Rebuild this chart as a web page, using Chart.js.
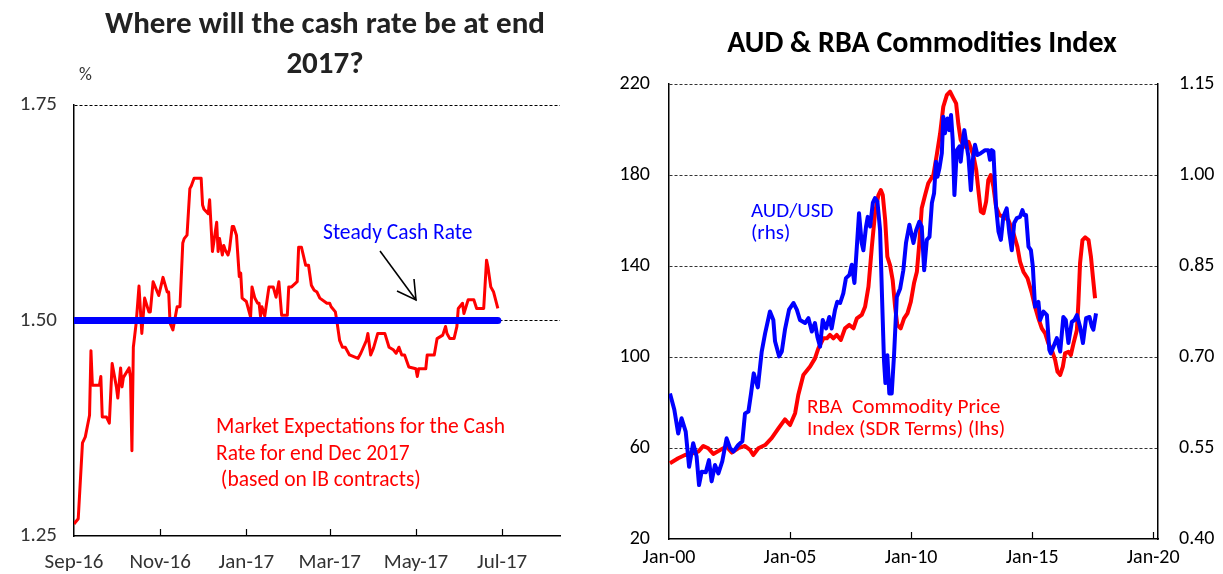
<!DOCTYPE html>
<html>
<head>
<meta charset="utf-8">
<script src="https://cdn.jsdelivr.net/npm/chart.js@4.4.1/dist/chart.umd.min.js"></script>
<style>
html,body{margin:0;padding:0;background:#fff;width:1223px;height:574px;overflow:hidden;font-family:Carlito,Lato,"Open Sans",sans-serif;}
#c1{position:absolute;left:0;top:0;}
#c2{position:absolute;left:600px;top:0;}
.t{position:absolute;white-space:pre;}
svg{position:absolute;left:0;top:0;pointer-events:none;}
</style>
</head>
<body>
<canvas id="c1" width="600" height="574"></canvas>
<canvas id="c2" width="623" height="574"></canvas>

<div class="t" style="left:0;top:2px;width:650px;text-align:center;font-weight:bold;font-size:31px;line-height:40px;color:#222;">Where will the cash rate be at end
2017?</div>
<div class="t" style="left:700px;top:22px;width:444px;text-align:center;font-weight:bold;font-size:30px;line-height:40px;color:#000;">AUD &amp; RBA Commodities Index</div>
<div class="t" style="left:79px;top:64px;font-size:18px;line-height:20px;color:#333;">%</div>

<div class="t" style="left:323px;top:219px;font-size:21.5px;line-height:26px;color:#0000ff;">Steady Cash Rate</div>
<div class="t" style="left:216px;top:413px;font-size:21.5px;line-height:26.5px;color:#ff0000;">Market Expectations for the Cash
Rate for end Dec 2017
 (based on IB contracts)</div>
<div class="t" style="left:751px;top:199px;font-size:21px;line-height:22px;color:#0000ff;">AUD/USD
(rhs)</div>
<div class="t" style="left:807px;top:395px;font-size:21.3px;line-height:22px;color:#ff0000;">RBA  Commodity Price
Index (SDR Terms) (lhs)</div>

<svg width="1223" height="574">
  <line x1="380" y1="251" x2="416" y2="300" stroke="#000" stroke-width="1.6"/>
  <polyline points="397,291 416,300 414,279" fill="none" stroke="#000" stroke-width="1.6"/>
</svg>

<script>
// ---------- Left chart data: cash rate expectations ----------
// x = days since 1 Sep 2016
const cashDays = [
  0,3,6,8,11,12,13,18,19,20,
  23,25,27,30,31,33,34,35,39,40,
  41,42,44,46,48,50,53,54,56,60,
  63,66,67,68,70,73,75,77,78,80,
  82,83,85,90,91,92,95,96,98,101,
  102,103,105,106,107,109,110,112,113,115,
  117,118,119,122,125,126,128,130,131,132,
  133,135,138,141,143,145,147,151,152,154,
  158,159,161,164,166,168,170,172,174,179,
  181,182,185,186,188,190,192,195,201,203,
  207,208,210,212,215,220,223,226,228,230,
  232,234,237,242,243,244,249,250,255,257,
  261,263,264,266,269,271,272,275,276,279,
  283,285,290,292,293,295,297,300
];
const cashRates = [
  1.264,1.270,1.358,1.365,1.390,1.465,1.425,1.425,1.435,1.388,
  1.388,1.381,1.450,1.423,1.410,1.445,1.423,1.434,1.445,1.434,
  1.349,1.469,1.497,1.540,1.485,1.526,1.510,1.510,1.545,1.529,
  1.550,1.533,1.533,1.497,1.489,1.516,1.516,1.590,1.595,1.599,
  1.653,1.656,1.665,1.665,1.634,1.629,1.624,1.640,1.580,1.614,
  1.580,1.595,1.576,1.587,1.582,1.576,1.582,1.609,1.609,1.599,
  1.551,1.555,1.526,1.522,1.504,1.539,1.526,1.520,1.520,1.505,
  1.516,1.505,1.539,1.539,1.527,1.545,1.506,1.506,1.539,1.539,
  1.545,1.585,1.585,1.564,1.564,1.541,1.535,1.533,1.526,1.520,
  1.520,1.516,1.510,1.500,1.477,1.469,1.469,1.460,1.456,1.462,
  1.477,1.485,1.460,1.468,1.485,1.485,1.469,1.466,1.462,1.469,
  1.460,1.460,1.446,1.444,1.435,1.444,1.444,1.460,1.460,1.479,
  1.483,1.493,1.485,1.479,1.479,1.493,1.514,1.520,1.508,1.524,
  1.524,1.514,1.514,1.570,1.562,1.539,1.533,1.514
];
const steadyDays = [0, 300];
const steadyRate = [1.50, 1.50];
const cashTickDays = [0, 61, 122, 181, 242, 303];
const cashTickLabels = ['Sep-16','Nov-16','Jan-17','Mar-17','May-17','Jul-17'];
const cashYTicks = [1.25, 1.50, 1.75];

// ---------- Right chart data ----------
const commodityYears = [
  2000.04,2000.38,2000.66,2000.94,2001.21,2001.42,2001.62,2001.83,2002.11,2002.38,
  2002.59,2002.86,2003.14,2003.35,2003.48,2003.69,2003.97,2004.24,2004.52,2004.79,
  2005.00,2005.21,2005.34,2005.55,2005.83,2006.03,2006.17,2006.38,2006.52,2006.65,
  2006.79,2006.93,2007.10,2007.27,2007.45,2007.62,2007.76,2007.96,2008.10,2008.24,
  2008.38,2008.51,2008.65,2008.75,2008.83,2008.93,2009.02,2009.13,2009.24,2009.34,
  2009.43,2009.57,2009.71,2009.85,2009.99,2010.12,2010.24,2010.34,2010.44,2010.58,
  2010.71,2010.92,2011.06,2011.20,2011.33,2011.48,2011.61,2011.75,2011.86,2011.95,
  2012.05,2012.19,2012.37,2012.57,2012.69,2012.78,2012.88,2012.99,2013.10,2013.19,
  2013.29,2013.40,2013.51,2013.65,2013.81,2014.02,2014.23,2014.39,2014.50,2014.64,
  2014.81,2014.99,2015.12,2015.26,2015.40,2015.54,2015.67,2015.81,2015.95,2016.05,
  2016.16,2016.27,2016.36,2016.50,2016.60,2016.71,2016.85,2016.91,2016.98,2017.08,
  2017.19,2017.33,2017.43,2017.51,2017.60
];
const commodityIndex = [
  53.3,55.5,56.9,57.6,58.4,60.9,59.9,57.4,59.1,60.6,
  58.0,59.9,60.9,59.1,56.9,59.9,61.3,64.3,68.6,72.6,
  70.1,75.3,83.3,92.1,95.8,99.4,103.8,108.2,108.2,109.7,
  108.2,109.7,107.5,112.6,114.1,112.6,117.0,118.5,122.1,130.9,
  148.5,163.2,171.2,173.4,171.2,160.2,144.1,140.4,133.8,122.1,
  114.1,112.6,117.0,119.2,124.3,132.4,137.5,150.0,165.4,171.2,
  176.4,180.0,188.8,198.3,210.0,215.2,216.6,213.7,211.5,202.7,
  195.4,192.4,194.6,188.8,182.2,173.4,163.9,163.2,168.3,177.8,
  180.0,174.9,166.1,162.4,161.7,160.2,154.4,148.5,141.9,137.5,
  134.6,128.0,122.1,117.0,112.6,110.4,106.0,103.1,98.7,93.5,
  92.1,95.8,101.6,102.3,100.9,106.0,111.9,123.6,141.2,151.4,
  152.6,151.4,144.1,135.3,125.8
];
const audYears = [
  2000.04,2000.22,2000.38,2000.52,2000.69,2000.83,2001.00,2001.14,2001.24,2001.35,
  2001.52,2001.65,2001.76,2001.90,2002.04,2002.20,2002.38,2002.52,2002.66,2002.86,
  2003.03,2003.14,2003.28,2003.39,2003.50,2003.67,2003.83,2003.97,2004.17,2004.31,
  2004.38,2004.55,2004.66,2004.79,2004.96,2005.14,2005.28,2005.41,2005.62,2005.76,
  2005.90,2006.03,2006.13,2006.24,2006.35,2006.49,2006.62,2006.72,2006.86,2006.95,
  2007.07,2007.20,2007.31,2007.45,2007.55,2007.66,2007.76,2007.85,2007.96,2008.03,
  2008.14,2008.21,2008.31,2008.42,2008.51,2008.61,2008.72,2008.80,2008.88,2008.94,
  2009.02,2009.10,2009.20,2009.30,2009.41,2009.55,2009.68,2009.79,2009.93,2010.10,
  2010.21,2010.34,2010.44,2010.54,2010.65,2010.76,2010.86,2010.95,2011.03,2011.09,
  2011.17,2011.27,2011.33,2011.40,2011.50,2011.58,2011.65,2011.72,2011.79,2011.89,
  2012.00,2012.05,2012.14,2012.20,2012.30,2012.37,2012.47,2012.55,2012.64,2012.74,
  2012.88,2013.06,2013.19,2013.26,2013.33,2013.40,2013.51,2013.61,2013.71,2013.81,
  2013.95,2014.06,2014.16,2014.26,2014.37,2014.50,2014.60,2014.67,2014.75,2014.85,
  2014.95,2015.03,2015.12,2015.26,2015.33,2015.47,2015.61,2015.71,2015.77,2015.88,
  2016.02,2016.16,2016.29,2016.39,2016.50,2016.64,2016.75,2016.85,2016.98,2017.10,
  2017.23,2017.37,2017.47,2017.53,2017.64
];
const audUsd = [
  0.640,0.613,0.574,0.599,0.577,0.519,0.558,0.536,0.489,0.511,
  0.510,0.530,0.495,0.522,0.508,0.528,0.566,0.550,0.544,0.555,
  0.561,0.607,0.610,0.640,0.673,0.650,0.709,0.739,0.775,0.761,
  0.726,0.701,0.709,0.745,0.778,0.789,0.778,0.761,0.756,0.764,
  0.742,0.756,0.733,0.717,0.761,0.747,0.766,0.747,0.778,0.791,
  0.789,0.805,0.830,0.835,0.852,0.822,0.882,0.937,0.888,0.876,
  0.915,0.931,0.915,0.954,0.962,0.956,0.909,0.799,0.695,0.657,
  0.703,0.640,0.640,0.706,0.799,0.813,0.843,0.888,0.918,0.888,
  0.909,0.923,0.915,0.843,0.893,0.898,0.954,0.970,1.022,0.997,
  1.011,1.036,1.096,1.069,1.093,1.074,1.099,1.058,0.967,1.041,
  1.047,1.022,1.058,1.074,1.047,1.030,0.975,1.025,1.050,1.033,
  1.036,1.041,1.041,1.025,1.041,1.039,0.948,0.907,0.893,0.931,
  0.945,0.904,0.876,0.921,0.929,0.931,0.942,0.934,0.934,0.882,
  0.876,0.849,0.783,0.791,0.761,0.775,0.769,0.712,0.706,0.717,
  0.731,0.709,0.766,0.761,0.723,0.758,0.761,0.769,0.750,0.723,
  0.764,0.766,0.750,0.745,0.772
];
const yearTicks = [2000, 2005, 2010, 2015, 2020];
const yearTickLabels = ['Jan-00','Jan-05','Jan-10','Jan-15','Jan-20'];
const lhsTicks = [20, 60, 100, 140, 180, 220];
const rhsTicks = [0.40, 0.55, 0.70, 0.85, 1.00, 1.15];

// ---------- helpers ----------
const FONT = 'Carlito, Lato, "Open Sans", sans-serif';
const pts = (xs, ys) => xs.map((x, i) => ({x: x, y: ys[i]}));
const innerTicks = {
  id: 'innerTicks',
  afterDatasetsDraw(chart) {
    const xs = chart.scales.x, ctx = chart.ctx, b = chart.chartArea.bottom;
    ctx.save();
    ctx.strokeStyle = '#000';
    ctx.lineWidth = 1.2;
    xs.ticks.forEach((t, i) => {
      if (i === 0) return;
      const px = Math.round(xs.getPixelForValue(t.value)) + 0.5;
      ctx.beginPath(); ctx.moveTo(px, b); ctx.lineTo(px, b - 7); ctx.stroke();
    });
    ctx.restore();
  }
};
function setTicks(values) {
  return function(scale) { scale.ticks = values.map(v => ({value: v})); };
}

// ---------- Left chart ----------
new Chart(document.getElementById('c1'), {
  type: 'line',
  data: {
    datasets: [
      {data: pts(steadyDays, steadyRate), borderColor: '#0000ff', borderWidth: 7,
       borderCapStyle: 'round', pointRadius: 0},
      {data: pts(cashDays, cashRates), borderColor: '#ff0000', borderWidth: 3,
       borderJoinStyle: 'round', pointRadius: 0, tension: 0}
    ]
  },
  options: {
    responsive: false, animation: false,
    layout: {padding: {top: 105, right: 40, left: 0, bottom: 0}},
    plugins: {legend: {display: false}, tooltip: {enabled: false}},
    scales: {
      x: {
        type: 'linear', min: 0, max: 344,
        afterBuildTicks: setTicks(cashTickDays),
        afterFit: s => { s.height = 38; },
        grid: {display: false, drawTicks: false},
        border: {display: true, color: '#000', width: 1.5},
        ticks: {padding: 14, color: '#333', font: {family: FONT, size: 21},
                maxRotation: 0, autoSkip: false,
                callback: (v) => cashTickLabels[cashTickDays.indexOf(v)]}
      },
      y: {
        type: 'linear', min: 1.25, max: 1.75,
        afterBuildTicks: setTicks(cashYTicks),
        afterFit: s => { s.width = 74; },
        grid: {drawTicks: false, lineWidth: 1,
               color: c => (c.tick && c.tick.value === 1.25) ? 'rgba(0,0,0,0)' : '#000'},
        border: {display: true, color: '#000', width: 1.5, dash: [3, 2]},
        ticks: {padding: 17, color: '#333', font: {family: FONT, size: 21},
                callback: v => Number(v).toFixed(2)}
      }
    }
  },
  plugins: [innerTicks]
});

// ---------- Right chart ----------
new Chart(document.getElementById('c2'), {
  type: 'line',
  data: {
    datasets: [
      {data: pts(audYears, audUsd), yAxisID: 'y1', borderColor: '#0000ff', borderWidth: 4,
       borderJoinStyle: 'round', pointRadius: 0, tension: 0},
      {data: pts(commodityYears, commodityIndex), yAxisID: 'y', borderColor: '#ff0000', borderWidth: 4,
       borderJoinStyle: 'round', pointRadius: 0, tension: 0}
    ]
  },
  options: {
    responsive: false, animation: false,
    layout: {padding: {top: 84, right: 0, left: 0, bottom: 0}},
    plugins: {legend: {display: false}, tooltip: {enabled: false}},
    scales: {
      x: {
        type: 'linear', min: 2000, max: 2020.2,
        afterBuildTicks: setTicks(yearTicks),
        afterFit: s => { s.height = 35; },
        grid: {display: false, drawTicks: false},
        border: {display: true, color: '#000', width: 1.5},
        ticks: {padding: 7, color: '#000', font: {family: FONT, size: 20},
                maxRotation: 0, autoSkip: false,
                callback: v => yearTickLabels[yearTicks.indexOf(v)]}
      },
      y: {
        type: 'linear', position: 'left', min: 20, max: 220,
        afterBuildTicks: setTicks(lhsTicks),
        afterFit: s => { s.width = 69; },
        grid: {drawTicks: false, lineWidth: 1,
               color: c => (c.tick && c.tick.value === 20) ? 'rgba(0,0,0,0)' : '#333'},
        border: {display: true, color: '#000', width: 1.5, dash: [3, 2]},
        ticks: {padding: 19, color: '#000', font: {family: FONT, size: 20}}
      },
      y1: {
        type: 'linear', position: 'right', min: 0.40, max: 1.15,
        afterBuildTicks: setTicks(rhsTicks),
        afterFit: s => { s.width = 65; },
        grid: {display: false, drawTicks: false},
        border: {display: true, color: '#000', width: 1.5},
        ticks: {padding: 21, color: '#000', font: {family: FONT, size: 20},
                callback: v => Number(v).toFixed(2)}
      }
    }
  },
  plugins: [innerTicks]
});
</script>
</body>
</html>
